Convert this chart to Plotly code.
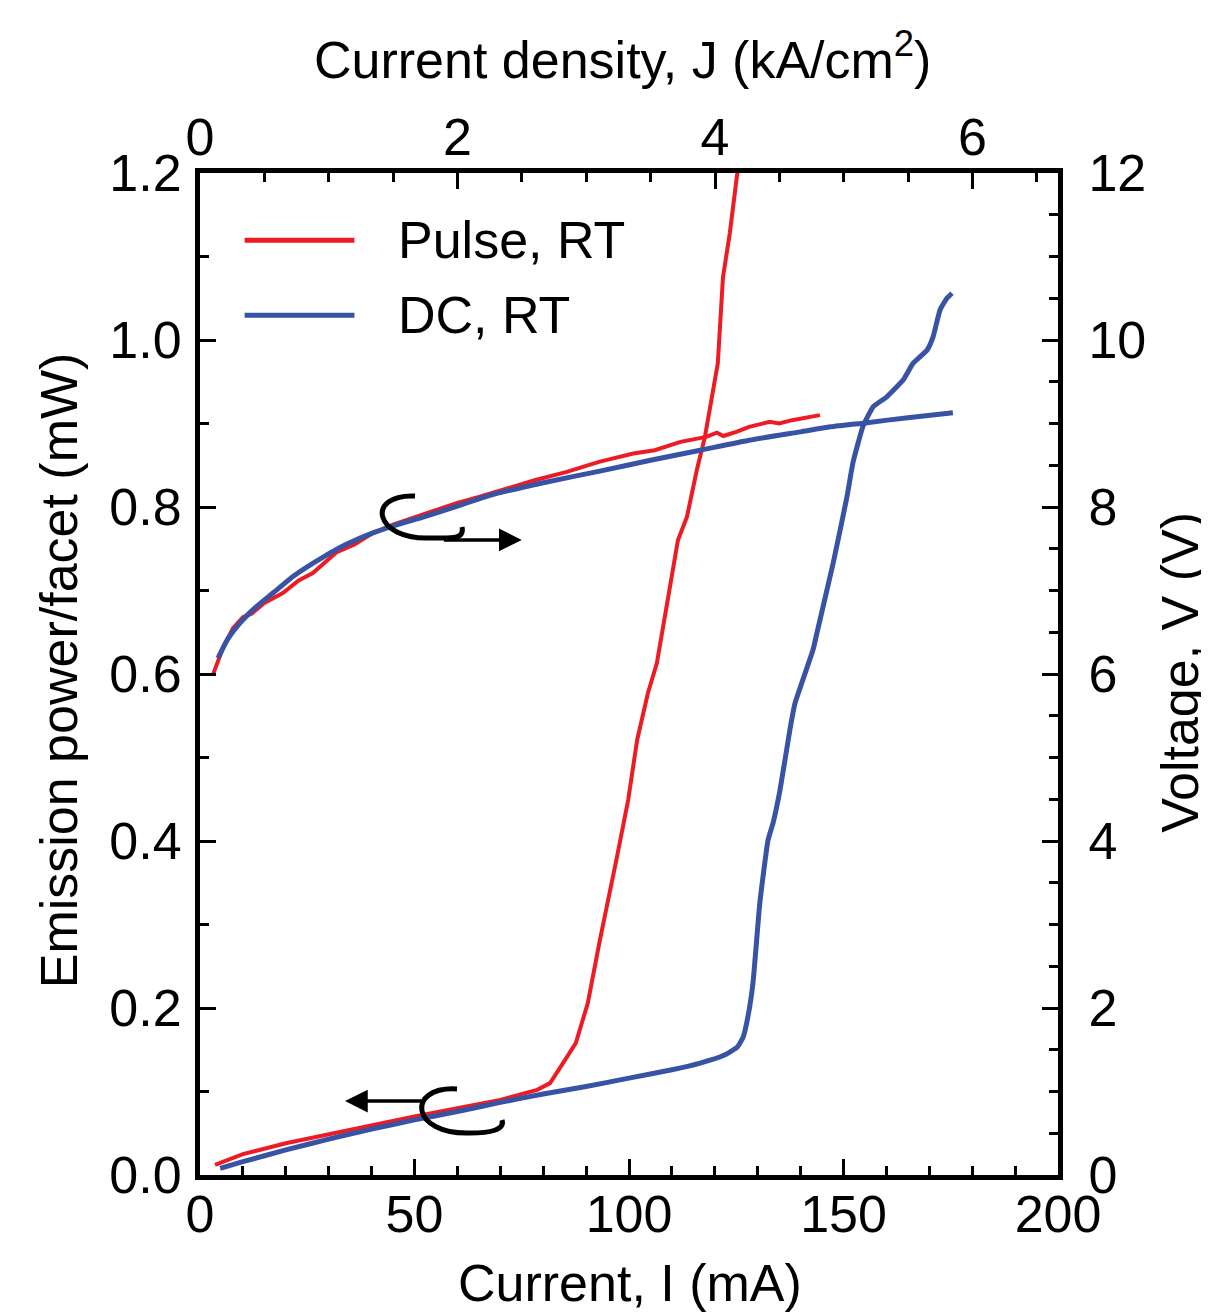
import plotly.graph_objects as go

# L-I data (left axis, mW)
pulse_li_current = [3.5, 10, 20, 30, 40, 50, 60, 70, 78.6, 81.6, 84.5, 87.6, 90.4, 93.2, 97.2,
                    99.8, 101.9, 104.4, 106.5, 109.1, 111.4, 113.5, 115.8, 117.7, 120.7, 121.9,
                    123.5, 125.2, 126.0]
pulse_li_power = [0.012, 0.025, 0.038, 0.049, 0.060, 0.070, 0.080, 0.090, 0.102, 0.110, 0.133,
                  0.158, 0.206, 0.281, 0.381, 0.449, 0.521, 0.577, 0.613, 0.689, 0.760, 0.788,
                  0.844, 0.884, 0.972, 1.075, 1.128, 1.198, 1.22]

dc_li_current = [4.7, 10, 20, 30, 40, 50, 60, 70, 80, 90, 100, 110, 116.6, 122, 125.2, 126.6,
                 127.7, 128.9, 130.5, 132.4, 133.6, 135.2, 137.5, 138.7, 142.9, 143.8, 147.6,
                 150.8, 152.2, 154.5, 156.9, 160.1, 163.9, 166.2, 169.5, 170.9, 172.5, 174.1, 175.3]
dc_li_power = [0.008, 0.016, 0.030, 0.043, 0.055, 0.066, 0.076, 0.087, 0.097, 0.106, 0.116,
               0.126, 0.134, 0.143, 0.153, 0.165, 0.189, 0.230, 0.326, 0.401, 0.422, 0.461,
               0.533, 0.565, 0.629, 0.649, 0.733, 0.812, 0.853, 0.896, 0.920, 0.932, 0.952,
               0.972, 0.988, 1.004, 1.036, 1.050, 1.056]

# I-V data (right axis, V)
pulse_v_current = [3.0, 5.4, 7.7, 10, 12, 15, 19.3, 23, 26.3, 31.9, 36, 40, 45, 50, 55, 60, 65,
                   70, 78, 85.5, 93, 101, 106, 112, 118, 120.5, 122, 125, 128, 132.8, 135, 138,
                   141.5, 144.5]
pulse_v = [5.99, 6.32, 6.55, 6.68, 6.72, 6.85, 6.97, 7.12, 7.21, 7.46, 7.55, 7.68, 7.79, 7.88,
           7.97, 8.05, 8.12, 8.20, 8.32, 8.42, 8.54, 8.64, 8.68, 8.78, 8.84, 8.89, 8.85, 8.90,
           8.96, 9.02, 9.00, 9.04, 9.07, 9.10]

dc_v_current = [4.2, 6.5, 9.3, 13, 17, 22, 28.7, 34, 40.3, 46, 52, 60, 67.6, 80, 93.2, 105,
                116.6, 128, 139.9, 147, 155.5, 165, 175.5]
dc_v = [6.19, 6.42, 6.61, 6.80, 6.97, 7.18, 7.40, 7.55, 7.69, 7.79, 7.88, 8.01, 8.14, 8.29, 8.43,
        8.56, 8.68, 8.80, 8.90, 8.96, 9.01, 9.07, 9.13]

series_names = ["Pulse, RT", "DC, RT"]
RED = "#ED1C24"
BLUE = "#3953A4"
FONT = "Liberation Sans, Arial, sans-serif"
FS = 52
title_font = dict(size=FS, color="black", family=FONT)

fig = go.Figure()

fig.add_trace(go.Scatter(x=pulse_li_current, y=pulse_li_power, mode="lines",
                         line=dict(color=RED, width=4), showlegend=False))
fig.add_trace(go.Scatter(x=pulse_v_current, y=pulse_v, mode="lines", yaxis="y2",
                         line=dict(color=RED, width=4), showlegend=False))
fig.add_trace(go.Scatter(x=dc_li_current, y=dc_li_power, mode="lines",
                         line=dict(color=BLUE, width=5, shape="spline", smoothing=0.4),
                         showlegend=False))
fig.add_trace(go.Scatter(x=dc_v_current, y=dc_v, mode="lines", yaxis="y2",
                         line=dict(color=BLUE, width=5, shape="spline", smoothing=0.6),
                         showlegend=False))
# dummy trace so the top (current density) axis gets drawn
fig.add_trace(go.Scatter(x=[None], y=[None], xaxis="x2", mode="markers",
                         showlegend=False, hoverinfo="skip"))

# hand-drawn legend
for i, (name, color) in enumerate(zip(series_names, [RED, BLUE])):
    yp = [0.933, 0.858][i]
    fig.add_shape(type="line", xref="paper", yref="paper", x0=0.052, x1=0.180, y0=yp, y1=yp,
                  line=dict(color=color, width=5))
    fig.add_annotation(xref="paper", yref="paper", x=0.229, y=yp, text=name, showarrow=False,
                       xanchor="left", yanchor="middle", font=title_font)

# axis titles, placed by hand
fig.add_annotation(xref="paper", yref="paper", x=0.501, y=-0.108, text="Current, I (mA)",
                   showarrow=False, xanchor="center", yanchor="middle", font=title_font)
fig.add_annotation(xref="paper", yref="paper", x=0.493, y=1.117,
                   text="Current density, J (kA/cm<sup>2</sup>)",
                   showarrow=False, xanchor="center", yanchor="middle", font=title_font)
fig.add_annotation(xref="paper", yref="paper", x=-0.164, y=0.504, text="Emission power/facet (mW)",
                   textangle=-90, showarrow=False, xanchor="center", yanchor="middle", font=title_font)
fig.add_annotation(xref="paper", yref="paper", x=1.142, y=0.502, text="Voltage, V (V)",
                   textangle=-90, showarrow=False, xanchor="center", yanchor="middle", font=title_font)

# hooks pointing to axes
fig.add_shape(type="path", xref="x", yref="y",
              path="M 50.12,0.8132 C 38.5,0.8156 40.5,0.7605 53.61,0.7629 C 58.28,0.7629 61.77,0.7605 61.07,0.776",
              line=dict(color="black", width=5))
fig.add_annotation(x=75.0, y=0.7605, ax=56.5, ay=0.7605, xref="x", yref="y", axref="x", ayref="y",
                   text="", showarrow=True, arrowhead=2, arrowsize=1.3, arrowwidth=3.5, arrowcolor="black")
fig.add_shape(type="path", xref="x", yref="y",
              path="M 59.91,0.103 C 48.0,0.1066 49.0,0.0479 62.94,0.0503 C 67.6,0.0503 71.1,0.0539 70.4,0.0659",
              line=dict(color="black", width=5))
fig.add_annotation(x=33.8, y=0.0886, ax=52.0, ay=0.0886, xref="x", yref="y", axref="x", ayref="y",
                   text="", showarrow=True, arrowhead=2, arrowsize=1.3, arrowwidth=3.5, arrowcolor="black")

axis_common = dict(showline=True, linewidth=5, linecolor="black", mirror=False, showgrid=False,
                   zeroline=False, ticks="inside", ticklen=16, tickwidth=3, tickcolor="black",
                   automargin=False, tickfont=dict(size=FS, color="black", family=FONT))
minor_common = dict(ticks="inside", ticklen=9, tickwidth=3, tickcolor="black")

# page body has an 8px margin, so the figure is shifted to land the plot at the reference spot
fig.update_layout(
    width=1201, height=1305,
    margin=dict(l=192, r=151, t=165, b=138),
    plot_bgcolor="white", paper_bgcolor="white",
    showlegend=False,
    xaxis=dict(range=[0, 200], dtick=50, tick0=0, minor=dict(dtick=10, **minor_common),
               ticklabelstandoff=-10, **axis_common),
    xaxis2=dict(range=[0, 6.664], dtick=2, tick0=0, overlaying="x", side="top", anchor="y",
                minor=dict(dtick=0.5, **minor_common), ticklabelstandoff=-8, **axis_common),
    yaxis=dict(range=[0, 1.2], dtick=0.2, tick0=0, tickformat=".1f", minor=dict(dtick=0.1, **minor_common),
               ticklabelstandoff=3, **axis_common),
    yaxis2=dict(range=[0, 12], dtick=2, tick0=0, overlaying="y", side="right", anchor="x",
                minor=dict(dtick=0.5, **minor_common), ticklabelstandoff=15, **axis_common),
)

fig.write_html("out.html")
